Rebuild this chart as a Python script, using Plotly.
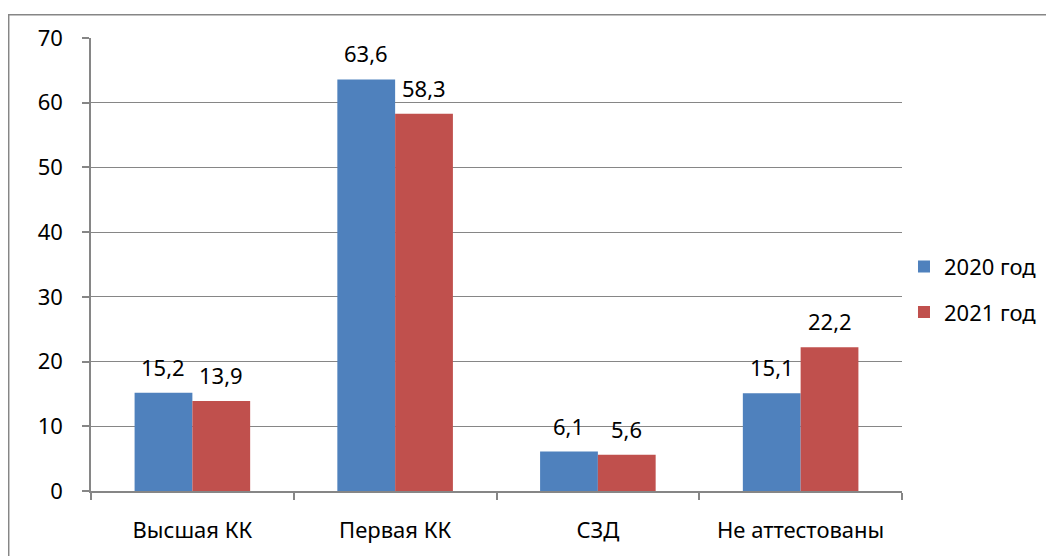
import plotly.graph_objects as go

categories = ["Высшая КК", "Первая КК", "СЗД", "Не аттестованы"]
series_names = ["2020 год", "2021 год"]
values_2020 = [15.2, 63.6, 6.1, 15.1]
values_2021 = [13.9, 58.3, 5.6, 22.2]
colors = ["#4F81BD", "#C0504D"]
y_ticks = [0, 10, 20, 30, 40, 50, 60, 70]

FONT = "Noto Sans"
FS = 22
OFF = 8  # page body margin
W, H = 1054 - OFF, 556 - OFF
L, R, T, B = 91 - OFF, 904 - OFF, 38 - OFF, 494 - OFF

fig = go.Figure()
for i, (name, vals) in enumerate(zip(series_names, [values_2020, values_2021])):
    fig.add_trace(go.Bar(
        x=categories, y=vals, name=name, marker_color=colors[i],
        marker_line_width=0, legendgroup=f"g{i}",
    ))

# data labels
for i, vals in enumerate([values_2020, values_2021]):
    shift = -29 if i == 0 else 29
    for c, v in zip(categories, vals):
        fig.add_annotation(
            x=c, y=v, text=f"{v:.1f}".replace(".", ","), showarrow=False,
            xshift=shift, yshift=9, yanchor="bottom",
            font=dict(family=FONT, size=FS, color="#000000"),
        )

def px_x(p):
    return (p - OFF - L) / (R - L)

def px_y(p):
    return (B - (p - OFF)) / (B - T)

fig.add_shape(type="rect", xref="paper", yref="paper",
              x0=px_x(8.5), x1=px_x(1070), y0=px_y(14.5), y1=px_y(575),
              line=dict(color="#868686", width=1.5), fillcolor="rgba(0,0,0,0)",
              layer="below")

fig.update_layout(
    width=W, height=H,
    margin=dict(l=L, r=W - R, t=T, b=H - B, pad=0),
    paper_bgcolor="white", plot_bgcolor="white",
    barmode="group", bargap=0.43, bargroupgap=0,
    separators=", ",
    font=dict(family=FONT, size=FS, color="#000000"),
    showlegend=True,
    legend=dict(x=px_x(906), y=px_y(247), xanchor="left", yanchor="top",
                font=dict(family=FONT, size=FS, color="#000000"),
                tracegroupgap=14, traceorder="grouped", itemwidth=30,
                bgcolor="rgba(0,0,0,0)"),
    xaxis=dict(
        type="category", showgrid=False, showline=True, linecolor="#868686",
        linewidth=1.5, ticks="outside", tickson="boundaries", ticklen=7,
        tickcolor="#868686", tickwidth=1.5, ticklabelstandoff=19,
        tickfont=dict(family=FONT, size=FS, color="#000000"),
    ),
    yaxis=dict(
        range=[0, 70], tickvals=y_ticks, showgrid=True, gridcolor="#868686",
        gridwidth=1.2, showline=True, linecolor="#868686", linewidth=1.5,
        ticks="outside", ticklen=7, tickcolor="#868686", tickwidth=1.5,
        zeroline=False, ticklabelstandoff=15,
        tickfont=dict(family=FONT, size=FS, color="#000000"),
    ),
)

fig.write_html("out.html")
